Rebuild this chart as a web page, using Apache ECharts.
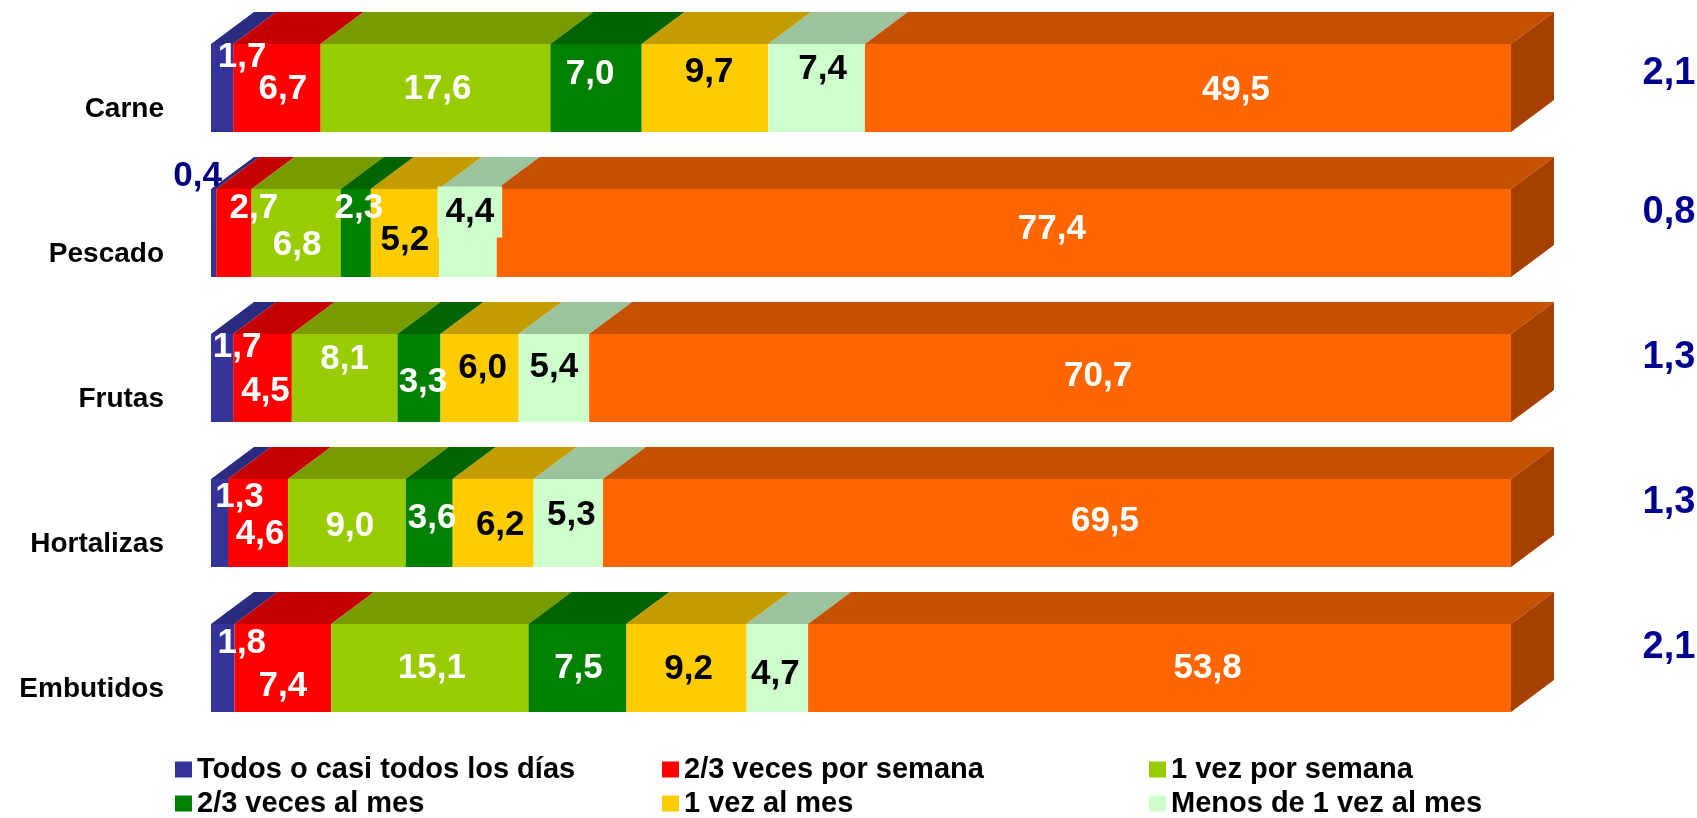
<!DOCTYPE html>
<html>
<head>
<meta charset="utf-8">
<script src="https://cdn.jsdelivr.net/npm/echarts@6/dist/echarts.min.js"></script>
<style>
  html, body { margin: 0; padding: 0; background: #fff; }
  #chart { width: 1697px; height: 818px; }
</style>
</head>
<body>
<div id="chart"></div>
<script>
// datos (%)
const categories = ['Carne', 'Pescado', 'Frutas', 'Hortalizas', 'Embutidos'];
const todosDias = [1.7, 0.4, 1.7, 1.3, 1.8];
const dosTresSemana = [6.7, 2.7, 4.5, 4.6, 7.4];
const unaSemana = [17.6, 6.8, 8.1, 9.0, 15.1];
const dosTresMes = [7.0, 2.3, 3.3, 3.6, 7.5];
const unaMes = [9.7, 5.2, 6.0, 6.2, 9.2];
const menosUnaMes = [7.4, 4.4, 5.4, 5.3, 4.7];
const nunca = [49.5, 77.4, 70.7, 69.5, 53.8];
const nsnc = [2.1, 0.8, 1.3, 1.3, 2.1];

const seriesNames = ['Todos o casi todos los días', '2/3 veces por semana', '1 vez por semana',
  '2/3 veces al mes', '1 vez al mes', 'Menos de 1 vez al mes', 'Nunca'];
const rawSeries = [todosDias, dosTresSemana, unaSemana, dosTresMes, unaMes, menosUnaMes, nunca];

const frontColors = ['#333399', '#FF0000', '#99CC00', '#008000', '#FFCC00', '#CCFFCC', '#FF6600'];
const topColors = ['#2B2B7F', '#C40000', '#789C00', '#006400', '#C49C00', '#9CC49C', '#C45000'];
const sideColor = '#A64000';
const labelColors = ['#fff', '#fff', '#fff', '#fff', '#000', '#000', '#fff'];

// label nudges [dx, dy] per series / category
const labelShift = [
  [[20, -31], [-16, -57], [15, -31], [20, -26], [19, -25]],
  [[6, 1], [20, -25], [3, 13], [2, 11], [0, 18]],
  [[2, 1], [1, 12], [0, -19], [3, 3], [2, 0]],
  [[-6, -14], [3, -25], [4, 4], [3, -5], [1, 0]],
  [[4, -16], [0, 7], [3, -10], [7, 2], [2, 1]],
  [[6, -19], [2, -21], [0, -11], [3, -8], [-2, 6]],
  [[48, 2], [48, -4], [48, -2], [48, -2], [48, 0]]
];

const FONT = "'Liberation Sans', Arial, sans-serif";
const DX = 43, DY = 32, BAR = 88;

const rowSum = categories.map((c, i) => rawSeries.reduce((s, arr) => s + arr[i], 0));
const pct = rawSeries.map(arr => arr.map((v, i) => v / rowSum[i] * 100));
const fmt = v => v.toFixed(1).replace('.', ',');

// 3D faces: [start, end, category, segment]
const faces = [];
categories.forEach((c, i) => {
  let acc = 0;
  pct.forEach((arr, j) => {
    faces.push([acc, acc + arr[i], i, j]);
    acc += arr[i];
  });
});

const chart = echarts.init(document.getElementById('chart'));

const barSeries = rawSeries.map((arr, j) => ({
  name: seriesNames[j],
  type: 'bar',
  stack: 'total',
  barWidth: BAR,
  z: 3,
  itemStyle: { color: frontColors[j] },
  emphasis: { disabled: true },
  label: {
    show: true,
    position: 'inside',
    color: labelColors[j],
    fontFamily: FONT,
    fontWeight: 'bold',
    fontSize: 35,
    formatter: p => fmt(arr[p.dataIndex])
  },
  data: arr.map((v, i) => {
    const item = { value: pct[j][i], label: { offset: labelShift[j][i] } };
    if (j === 0 && i === 1) item.label.color = '#000080';
    if (j === 5 && i === 1) {
      item.label.backgroundColor = '#CCFFCC';
      item.label.padding = [14, 8, 2, 8];
    }
    return item;
  })
}));

const faceSeries = {
  type: 'custom',
  name: 'caras',
  silent: true,
  z: 2,
  encode: { x: [0, 1], y: 2 },
  data: faces,
  renderItem: function (params, api) {
    const i = api.value(2), j = api.value(3);
    const a = api.coord([api.value(0), i]);
    const b = api.coord([api.value(1), i]);
    const yT = a[1] - BAR / 2, yB = a[1] + BAR / 2;
    const children = [{
      type: 'polygon',
      shape: { points: [[a[0], yT], [b[0], yT], [b[0] + DX, yT - DY], [a[0] + DX, yT - DY]] },
      style: { fill: topColors[j] }
    }];
    if (j === 6) {
      children.push({
        type: 'polygon',
        shape: { points: [[b[0], yT], [b[0] + DX, yT - DY], [b[0] + DX, yB - DY], [b[0], yB]] },
        style: { fill: sideColor }
      });
      children.push({
        type: 'text',
        x: b[0] + 158,
        y: a[1] - (i === 0 ? 14 : 20),
        style: {
          text: fmt(nsnc[i]),
          fill: '#000090',
          font: 'bold 38px ' + FONT,
          align: 'center',
          verticalAlign: 'middle'
        }
      });
    }
    return { type: 'group', children: children };
  }
};

// one legend per entry: 3 columns x 2 rows
const legendOrder = [0, 1, 2, 3, 4, 5];
const legendLefts = [175, 662, 1149];
const legendTops = [755, 789];

chart.setOption({
  animation: false,
  grid: { left: 211, right: 186, top: 15.5, bottom: 77.5 },
  xAxis: { type: 'value', min: 0, max: 100, show: false },
  yAxis: {
    type: 'category',
    data: categories,
    inverse: true,
    axisLine: { show: false },
    axisTick: { show: false },
    splitLine: { show: false },
    axisLabel: {
      margin: 47,
      fontSize: 28,
      fontWeight: 'bold',
      color: '#000',
      fontFamily: FONT,
      verticalAlign: 'top',
      lineHeight: 43
    }
  },
  legend: legendOrder.map((j, k) => ({
    orient: 'horizontal',
    left: legendLefts[k % 3],
    top: legendTops[Math.floor(k / 3)],
    padding: 0,
    data: [seriesNames[j]],
    icon: 'rect',
    itemWidth: 17,
    itemHeight: 16,
    selectedMode: false,
    textStyle: { fontSize: 29, fontWeight: 'bold', fontFamily: FONT, color: '#000', lineHeight: 29 }
  })),
  series: [faceSeries].concat(barSeries)
});
</script>
</body>
</html>
